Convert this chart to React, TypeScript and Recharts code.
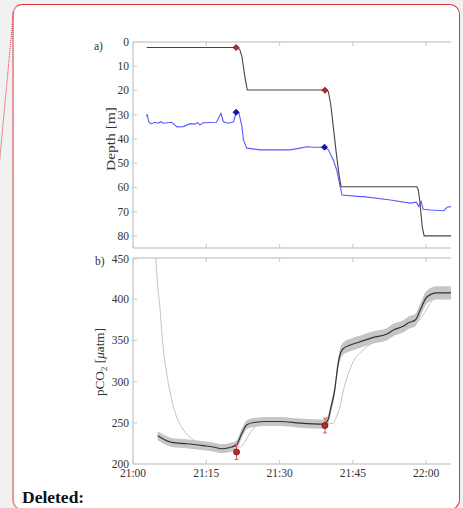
import React from 'react';
import { ComposedChart, Line, Area, Scatter, XAxis, YAxis, ErrorBar } from 'recharts';

// ---- ticks ----
const timeTicks = [0, 15, 30, 45, 60];
const timeLabels = ['21:00', '21:15', '21:30', '21:45', '22:00'];
const depthTicks = [0, 10, 20, 30, 40, 50, 60, 70, 80];
const pco2Ticks = [200, 250, 300, 350, 400, 450];

// ---- panel a: instrument depth (black) ----
const instT = [2.8, 21.2, 21.6, 21.9, 22.3, 22.6, 23.0, 23.4, 39.6, 40.0, 40.5, 41.0, 41.7, 42.2, 42.6, 58.1, 58.4, 58.7, 59.2, 59.6, 65.2];
const instD = [2.3, 2.3, 2.6, 3.3, 6.0, 10.2, 15.5, 19.8, 19.8, 20.5, 26.0, 34.9, 47.3, 55.0, 59.7, 59.7, 61.0, 65.2, 76.2, 80.0, 80.0];

// ---- panel a: sensor depth (blue) ----
const sensT = [2.8, 2.9, 3.2, 3.7, 4.5, 5.2, 5.7, 6.2, 7.9, 9.0, 10.3, 11.7, 12.7, 13.2, 13.7, 14.4, 17.1, 18.0, 18.5, 19.5, 20.6, 21.1, 21.7, 22.3, 22.6, 23.3, 26.0, 28.7, 32.2, 34.2, 35.6, 36.9, 39.2, 40.0, 41.0, 41.7, 42.4, 42.8, 46.5, 47.2, 52.7, 56.8, 58.0, 58.5, 59.0, 59.4, 60.9, 63.6, 64.3, 65.2];
const sensD = [30.8, 29.8, 32.8, 33.8, 33.1, 33.5, 32.9, 33.5, 33.1, 35.0, 34.9, 33.7, 33.9, 33.3, 34.2, 33.3, 33.1, 29.4, 32.9, 33.5, 32.9, 29.0, 29.4, 34.9, 40.4, 43.8, 44.5, 44.5, 44.5, 43.8, 43.2, 43.4, 43.4, 44.5, 48.7, 52.8, 59.7, 63.1, 63.8, 63.8, 65.2, 66.5, 66.1, 67.9, 65.8, 69.0, 69.3, 69.6, 68.2, 67.9];

const instMarkT = [21.1, 39.3];
const instMarkD = [2.3, 19.9];
const sensMarkT = [21.1, 39.2];
const sensMarkD = [29.0, 43.4];

// ---- panel b: pCO2 corrected (black) with uncertainty band ----
const corrT = [5.05, 6.2, 7.9, 11.0, 14.4, 16.4, 18.2, 20.2, 21.2, 22.3, 23.3, 24.7, 27.4, 30.1, 34.2, 39.0, 40.0, 40.5, 41.3, 41.9, 42.5, 43.1, 44.5, 46.5, 49.2, 52.0, 53.3, 55.4, 56.4, 57.8, 58.8, 60.2, 62.2, 65.1];
const corrV = [234.3, 230.3, 226.2, 224.6, 222.2, 220.6, 218.5, 220.6, 223.4, 237.5, 247.6, 250.4, 251.6, 251.6, 249.6, 248.4, 255.0, 268.0, 290.0, 318.0, 335.0, 340.4, 344.4, 348.4, 353.7, 357.7, 362.6, 367.4, 371.4, 374.7, 386.8, 402.9, 407.7, 407.7];
const corrErr = [5.5, 5.5, 5.5, 5.5, 5.5, 5.5, 5.5, 5.5, 5.5, 5.5, 5.5, 5.5, 5.5, 5.5, 5.5, 5.5, 6, 6, 6.5, 7, 7.5, 7.5, 7.5, 7.5, 7.5, 7.5, 7.5, 7.5, 7.5, 7.5, 8, 8, 8, 8];

// ---- panel b: pCO2 raw (light grey) ----
const rawT = [4.2, 4.7, 5.0, 5.5, 6.0, 6.9, 8.26, 10.3, 12.0, 13.7, 16.0, 19.2, 22.0, 23.0, 24.0, 25.0, 26.5, 28.0, 29.4, 32.0, 36.0, 39.5, 41.0, 41.7, 42.4, 43.1, 44.0, 45.1, 46.5, 47.9, 49.5, 51.3, 54.6, 58.0, 59.4, 60.8, 62.0, 62.9, 65.1];
const rawV = [530, 450, 420, 391, 352, 310, 270, 241.5, 231, 225.4, 223, 220.6, 220.6, 228, 238, 245, 249.5, 250.5, 250.8, 250.5, 249.0, 248.5, 249.6, 258, 270, 290, 308, 324.2, 335, 342.4, 348, 352.5, 362.6, 371.4, 380.8, 394.9, 402, 405, 407];

const discT = [21.2, 39.3];
const discV = [214.5, 246.7];
const discErr = [9, 9];

// ---- build tables ----
const instData = instT.map((t, i) => ({ t, v: instD[i] }));
const sensData = sensT.map((t, i) => ({ t, v: sensD[i] }));
const instMarks = instMarkT.map((t, i) => ({ t, v: instMarkD[i] }));
const sensMarks = sensMarkT.map((t, i) => ({ t, v: sensMarkD[i] }));
const corrData = corrT.map((t, i) => ({ t, v: corrV[i], r: [corrV[i] - corrErr[i], corrV[i] + corrErr[i]] }));
const rawData = rawT.map((t, i) => ({ t, v: rawV[i] }));
const discData = discT.map((t, i) => ({ t, v: discV[i], e: discErr[i] }));

const FONT = '"Liberation Serif", "Times New Roman", serif';
const AXIS = '#cfcfcf';
const TXT = '#333';
const XDOM: [number, number] = [0, 65.1];

const LeftTick = (props: any) => {
  const { x, y, payload } = props;
  const ax = x + 4;
  return (
    <g>
      <line x1={ax} x2={ax + 4} y1={y} y2={y} stroke={AXIS} strokeWidth={1.2} />
      <text x={x} y={y} dy={4} textAnchor="end" fontFamily={FONT} fontSize={11.5} fill={TXT}>{payload.value}</text>
    </g>
  );
};

const TopTick = (props: any) => {
  const { x, y } = props;
  return <line x1={x} x2={x} y1={y} y2={y + 4} stroke={AXIS} strokeWidth={1.2} />;
};

const BottomTickPlain = (props: any) => {
  const { x, y } = props;
  return <line x1={x} x2={x} y1={y} y2={y - 4} stroke={AXIS} strokeWidth={1.2} />;
};

const BottomTickLabel = (props: any) => {
  const { x, y, payload } = props;
  const idx = timeTicks.indexOf(payload.value);
  return (
    <g>
      <line x1={x} x2={x} y1={y} y2={y - 4} stroke={AXIS} strokeWidth={1.2} />
      <text x={x} y={y + 13} textAnchor="middle" fontFamily={FONT} fontSize={11.5} fill={TXT}>{timeLabels[idx]}</text>
    </g>
  );
};

const Diamond = (color: string, edge: string) => (props: any) => {
  const { cx, cy } = props;
  const s = 3;
  return <path d={`M${cx},${cy - s}L${cx + s},${cy}L${cx},${cy + s}L${cx - s},${cy}Z`} fill={color} stroke={edge} strokeWidth={0.8} />;
};

const Dot = (props: any) => {
  const { cx, cy } = props;
  return <circle cx={cx} cy={cy} r={3} fill="#c0282d" stroke="#6a0d0d" strokeWidth={0.8} />;
};

export default function App() {
  return (
    <div style={{ position: 'fixed', left: 0, top: 0, width: 463, height: 508, background: '#f1f1f1', overflow: 'hidden' }}>
      <div style={{ position: 'absolute', left: 12, top: 4, width: 448, height: 506, boxSizing: 'border-box', background: '#fff', border: '1.5px solid #d8363d', borderLeft: '2px solid #e6979b', borderRadius: 10 }} />

      <div style={{ position: 'absolute', left: 0, top: 0 }}>
        <ComposedChart width={463} height={255} margin={{ top: 37, right: 12, bottom: 2, left: 93 }}>
          <XAxis xAxisId="top" orientation="top" type="number" dataKey="t" domain={XDOM} ticks={timeTicks} allowDataOverflow height={5} tickSize={0} tickMargin={0} axisLine={{ stroke: AXIS, strokeWidth: 1.5 }} tickLine={false} tick={<TopTick />} />
          <XAxis xAxisId={0} orientation="bottom" type="number" dataKey="t" domain={XDOM} ticks={timeTicks} allowDataOverflow height={5} tickSize={0} tickMargin={0} axisLine={{ stroke: AXIS, strokeWidth: 1.5 }} tickLine={false} tick={<BottomTickPlain />} />
          <YAxis type="number" domain={[0, 85]} reversed ticks={depthTicks} allowDataOverflow width={40} tickSize={0} tickMargin={4} axisLine={{ stroke: AXIS, strokeWidth: 1.5 }} tickLine={false} tick={<LeftTick />} />
          <Line data={sensData} dataKey="v" type="linear" stroke="#5b5bff" strokeWidth={1.1} dot={false} isAnimationActive={false} />
          <Line data={instData} dataKey="v" type="linear" stroke="#444" strokeWidth={1.1} dot={false} isAnimationActive={false} />
          <Scatter data={instMarks} dataKey="v" shape={Diamond('#c0282d', '#6a0d0d')} isAnimationActive={false} />
          <Scatter data={sensMarks} dataKey="v" shape={Diamond('#1010d0', '#000070')} isAnimationActive={false} />
        </ComposedChart>
      </div>

      <div style={{ position: 'absolute', left: 0, top: 250 }}>
        <ComposedChart width={463} height={250} margin={{ top: 3, right: 12, bottom: 16, left: 93 }}>
          <XAxis xAxisId="top" orientation="top" type="number" dataKey="t" domain={XDOM} ticks={timeTicks} allowDataOverflow height={5} tickSize={0} tickMargin={0} axisLine={{ stroke: AXIS, strokeWidth: 1.5 }} tickLine={false} tick={<TopTick />} />
          <XAxis xAxisId={0} orientation="bottom" type="number" dataKey="t" domain={XDOM} ticks={timeTicks} allowDataOverflow height={20} tickSize={0} tickMargin={0} axisLine={{ stroke: AXIS, strokeWidth: 1.5 }} tickLine={false} tick={<BottomTickLabel />} />
          <YAxis type="number" domain={[200, 450]} ticks={pco2Ticks} allowDataOverflow width={40} tickSize={0} tickMargin={4} axisLine={{ stroke: AXIS, strokeWidth: 1.5 }} tickLine={false} tick={<LeftTick />} />
          <Area data={corrData} dataKey="r" type="monotone" fill="#c6c6c6" fillOpacity={1} stroke="none" isAnimationActive={false} />
          <Line data={rawData} dataKey="v" type="monotone" stroke="#c4c4c4" strokeWidth={1} dot={false} isAnimationActive={false} />
          <Line data={corrData} dataKey="v" type="monotone" stroke="#333" strokeWidth={1.2} dot={false} isAnimationActive={false} />
          <Scatter data={discData} dataKey="v" shape={<Dot />} isAnimationActive={false}>
            <ErrorBar dataKey="e" direction="y" stroke="#e0585d" strokeWidth={1} width={2} />
          </Scatter>
        </ComposedChart>
      </div>

      <svg width={463} height={508} style={{ position: 'absolute', left: 0, top: 0, pointerEvents: 'none' }}>
        <line x1={13.5} y1={12} x2={-0.5} y2={162} stroke="#cc3333" strokeWidth={1} strokeDasharray="1 1" />
        <text x={94} y={49.5} fontFamily={FONT} fontSize={11.5} fill={TXT}>a)</text>
        <text x={95} y={265} fontFamily={FONT} fontSize={11.5} fill={TXT}>b)</text>
        <text transform="translate(115,171) rotate(-90)" fontFamily={FONT} fontSize={12} fill={TXT} textLength={64} lengthAdjust="spacingAndGlyphs">Depth [m]</text>
        <text transform="translate(104,396) rotate(-90)" fontFamily={FONT} fontSize={12} fill={TXT} textLength={68} lengthAdjust="spacingAndGlyphs">pCO<tspan dy={3} fontSize={8.5}>2</tspan><tspan dy={-3}> [</tspan><tspan fontStyle="italic">μ</tspan>atm]</text>
      </svg>

      <div style={{ position: 'absolute', left: 22, top: 487, fontFamily: FONT, fontWeight: 'bold', fontSize: 17.5, color: '#111', lineHeight: '20px' }}>Deleted:</div>
    </div>
  );
}
